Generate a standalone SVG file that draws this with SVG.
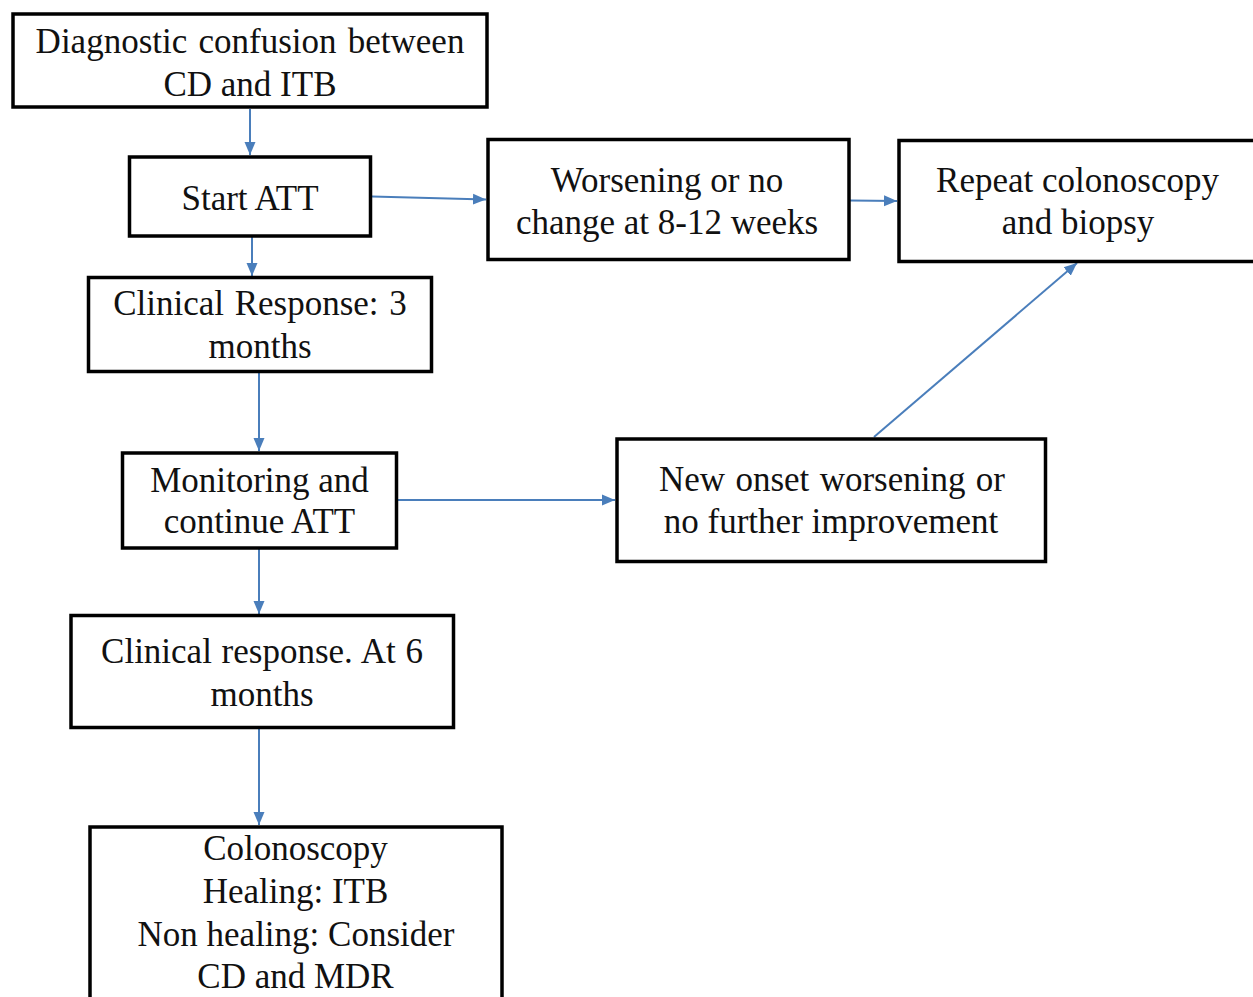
<svg xmlns="http://www.w3.org/2000/svg" width="1253" height="997" viewBox="0 0 1253 997">
  <style>
    .box { fill: #ffffff; stroke: #000000; stroke-width: 3.5; }
    .lbl { font-family: "Liberation Serif", "Times New Roman", serif; font-size: 35px; fill: #111111; text-anchor: middle; }
    .link { fill: none; stroke: #4a7ebb; stroke-width: 2; marker-end: url(#head); }
  </style>
  <defs>
    <marker id="head" markerUnits="userSpaceOnUse" markerWidth="14" markerHeight="14" viewBox="0 0 14 14" refX="13" refY="7" orient="auto">
      <path d="M0,1.5 L13,7 L0,12.5 Z" fill="#4a7ebb"/>
    </marker>
  </defs>
  <rect width="1253" height="997" fill="#ffffff"/>

  <g id="connectors">
    <line class="link" x1="250" y1="109" x2="250" y2="155"/>
    <line class="link" x1="372" y1="196.5" x2="486" y2="199.5"/>
    <line class="link" x1="252" y1="237" x2="252" y2="276"/>
    <line class="link" x1="850" y1="200.5" x2="897" y2="201"/>
    <line class="link" x1="259" y1="373" x2="259" y2="451"/>
    <line class="link" x1="397" y1="500" x2="615" y2="500"/>
    <line class="link" x1="874" y1="437" x2="1077" y2="263"/>
    <line class="link" x1="259" y1="549" x2="259" y2="614"/>
    <line class="link" x1="259" y1="729" x2="259" y2="825"/>
  </g>

  <g id="n-diagnostic">
    <rect class="box" x="13" y="14" width="474" height="93"/>
    <text class="lbl" x="250" y="53" word-spacing="2.5">Diagnostic confusion between</text>
    <text class="lbl" x="250" y="96">CD and ITB</text>
  </g>

  <g id="n-start">
    <rect class="box" x="129.5" y="157" width="241" height="79"/>
    <text class="lbl" x="250" y="210">Start ATT</text>
  </g>

  <g id="n-worsening">
    <rect class="box" x="488" y="139.5" width="361" height="120"/>
    <text class="lbl" x="667" y="192">Worsening or no</text>
    <text class="lbl" x="667" y="234">change at 8-12 weeks</text>
  </g>

  <g id="n-repeat">
    <rect class="box" x="899" y="140.5" width="360" height="121"/>
    <text class="lbl" x="1077.5" y="192">Repeat colonoscopy</text>
    <text class="lbl" x="1078" y="234">and biopsy</text>
  </g>

  <g id="n-response3">
    <rect class="box" x="88.5" y="277.5" width="343" height="94"/>
    <text class="lbl" x="260" y="315" word-spacing="2">Clinical Response: 3</text>
    <text class="lbl" x="260" y="358">months</text>
  </g>

  <g id="n-monitoring">
    <rect class="box" x="122.5" y="453" width="274" height="95"/>
    <text class="lbl" x="259.5" y="492">Monitoring and</text>
    <text class="lbl" x="259.5" y="533">continue ATT</text>
  </g>

  <g id="n-newonset">
    <rect class="box" x="617" y="439" width="428.5" height="122.5"/>
    <text class="lbl" x="832" y="491" word-spacing="1.6">New onset worsening or</text>
    <text class="lbl" x="831" y="533">no further improvement</text>
  </g>

  <g id="n-response6">
    <rect class="box" x="71" y="615.5" width="382.5" height="112"/>
    <text class="lbl" x="262" y="663" word-spacing="1">Clinical response. At 6</text>
    <text class="lbl" x="262" y="706">months</text>
  </g>

  <g id="n-colonoscopy">
    <rect class="box" x="90" y="827" width="412" height="180"/>
    <text class="lbl" x="295.5" y="860">Colonoscopy</text>
    <text class="lbl" x="295.5" y="903">Healing: ITB</text>
    <text class="lbl" x="296" y="946">Non healing: Consider</text>
    <text class="lbl" x="295.5" y="988">CD and MDR</text>
  </g>
</svg>
